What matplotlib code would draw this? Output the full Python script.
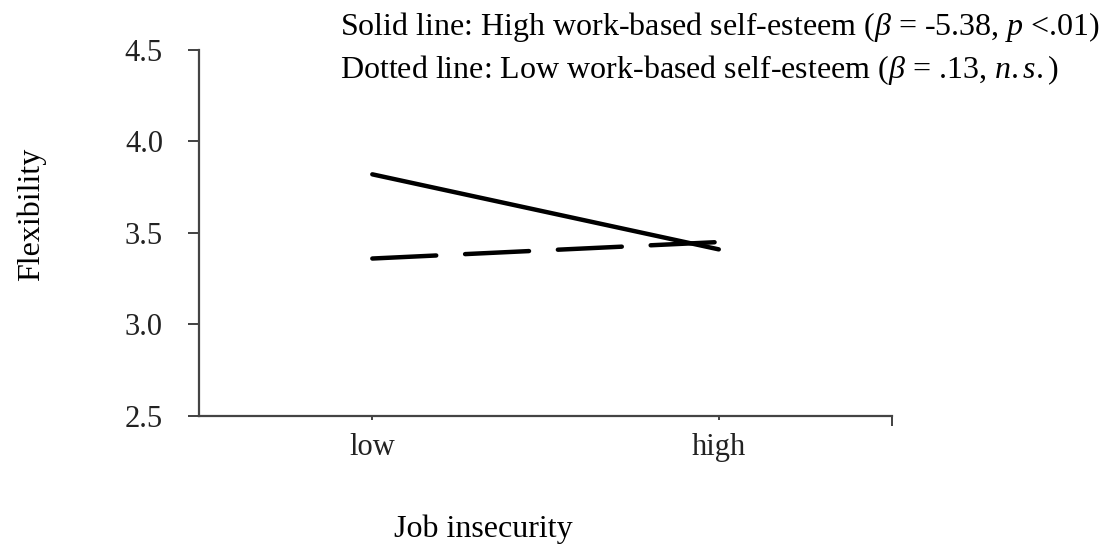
import matplotlib
matplotlib.use("Agg")
import matplotlib.pyplot as plt

# data
categories = ["low", "high"]
cat_pos = [1, 3]
high_self_esteem = [3.82, 3.41]
low_self_esteem = [3.36, 3.45]
y_ticks = [2.5, 3.0, 3.5, 4.0, 4.5]

plt.rcParams['font.family'] = ['Liberation Serif', 'DejaVu Serif']
plt.rcParams['mathtext.fontset'] = 'custom'
plt.rcParams['mathtext.rm'] = 'Liberation Serif'
plt.rcParams['mathtext.it'] = 'Liberation Serif:italic'

fig = plt.figure(figsize=(11.06, 5.48), dpi=100)
ax = fig.add_axes([0.18, 0.241, 0.6265, 0.668])

ax.plot(cat_pos, high_self_esteem, '-', color='black', lw=3.2, solid_capstyle='round')
ax.plot(cat_pos, low_self_esteem, color='black', lw=3.2, dashes=(14.4, 6.5),
        dash_capstyle='round')

ax.set_xlim(0, 4)
ax.set_ylim(2.5, 4.5)
ax.set_yticks(y_ticks)
ax.set_yticklabels([f"{v:.1f}" for v in y_ticks])
ax.set_xticks(cat_pos)
ax.set_xticklabels(categories)
ax.set_xticks([4], minor=True)
ax.tick_params(axis='both', labelsize=22, labelcolor='#222222', color='#333333', width=1.3)
ax.tick_params(axis='y', length=8, pad=18)
ax.tick_params(axis='x', length=3, pad=9)
ax.tick_params(axis='x', which='minor', length=7, width=1.3, color='#333333')

for side in ['top', 'right']:
    ax.spines[side].set_visible(False)
for side in ['left', 'bottom']:
    ax.spines[side].set_color('#444444')
    ax.spines[side].set_linewidth(1.6)

fig.text(0.028, 0.608, "Flexibility", rotation=90, fontsize=23, ha='center', va='center')
fig.text(0.437, 0.020, "Job insecurity", fontsize=23, ha='center', va='baseline')

fig.text(0.307, 0.936, r"Solid line: High work-based self-esteem ($\mathit{\beta}$ = -5.38, $\mathit{p}$ <.01)",
         fontsize=23, ha='left', va='baseline')
fig.text(0.307, 0.858, r"Dotted line: Low work-based self-esteem ($\mathit{\beta}$ = .13, $\mathit{n.s.}$)",
         fontsize=23, ha='left', va='baseline')

fig.savefig("out.png", dpi=100)
